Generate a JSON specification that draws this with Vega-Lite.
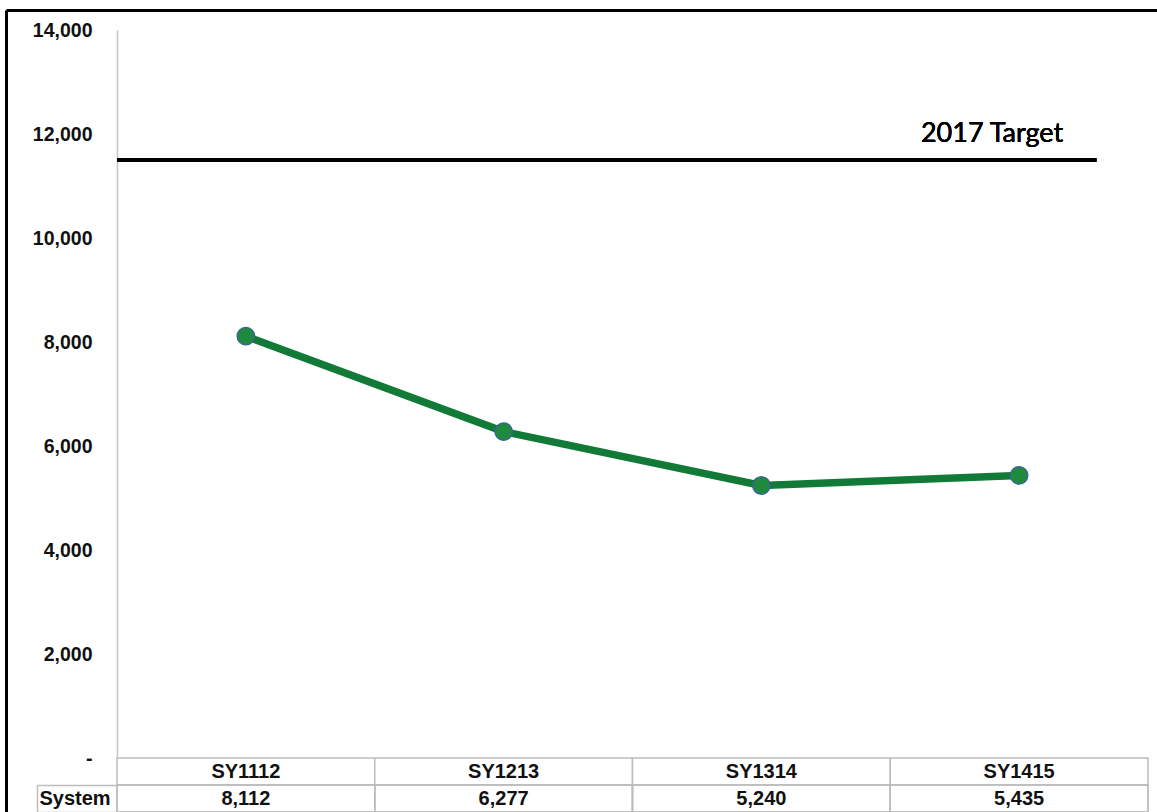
{
  "$schema": "https://vega.github.io/schema/vega-lite/v6.json",
  "padding": {"left": 6, "top": 10, "right": 0, "bottom": 0},
  "background": "white",
  "spacing": 0,
  "bounds": "flush",
  "config": {
    "view": {"stroke": null},
    "font": "Liberation Sans",
    "concat": {"spacing": 0}
  },
  "data": {
    "values": [
      {"year": "SY1112", "value": 8112},
      {"year": "SY1213", "value": 6277},
      {"year": "SY1314", "value": 5240},
      {"year": "SY1415", "value": 5435}
    ]
  },
  "resolve": {"scale": {"x": "independent", "y": "independent"}},
  "vconcat": [
    {
      "width": 1031,
      "height": 728,
      "layer": [
        {
          "encoding": {
            "x": {
              "field": "year",
              "type": "nominal",
              "scale": {"type": "band", "domain": ["SY1112", "SY1213", "SY1314", "SY1415"], "paddingInner": 0, "paddingOuter": 0},
              "axis": null
            },
            "y": {
              "field": "value",
              "type": "quantitative",
              "scale": {"domain": [0, 14000], "nice": false, "zero": true},
              "axis": {
                "title": null,
                "orient": "left",
                "values": [0, 2000, 4000, 6000, 8000, 10000, 12000, 14000],
                "labelExpr": "datum.value === 0 ? '-' : format(datum.value, ',')",
                "grid": false,
                "ticks": false,
                "domainColor": "#c4c4c4",
                "domainWidth": 1.5,
                "labelFont": "Liberation Sans",
                "labelFontSize": 19.5,
                "labelFontWeight": "bold",
                "labelColor": "#111111",
                "labelPadding": 25
              }
            }
          },
          "layer": [
            {
              "mark": {"type": "rule", "color": "black", "strokeWidth": 3.5},
              "encoding": {
                "x": {"datum": "SY1112", "bandPosition": 0},
                "x2": {"datum": "SY1415", "bandPosition": 0.8},
                "y": {"datum": 11500, "type": "quantitative"}
              }
            },
            {
              "mark": {"type": "text", "font": "Lato", "fontSize": 27, "color": "black", "baseline": "alphabetic", "align": "center"},
              "encoding": {
                "x": {"datum": "SY1415", "bandPosition": 0.395},
                "y": {"datum": 11850, "type": "quantitative"},
                "text": {"value": "2017 Target"}
              }
            },
            {
              "mark": {"type": "line", "color": "#117a36", "strokeWidth": 7.5}
            },
            {
              "mark": {"type": "point", "shape": "circle", "filled": true, "size": 310, "fill": "#1f8a3e", "stroke": "#3b5fa0", "strokeWidth": 1.2, "opacity": 1}
            }
          ]
        },
        {
          "mark": {"type": "text", "text": ""},
          "encoding": {
            "x": {
              "datum": 0,
              "type": "quantitative",
              "scale": {"domain": [0, 1], "range": [-111, 1041]},
              "axis": {"orient": "top", "offset": 20, "domain": true, "domainColor": "black", "domainWidth": 3, "ticks": false, "labels": false, "grid": false, "title": null}
            },
            "y": {
              "datum": 0,
              "type": "quantitative",
              "scale": {"domain": [0, 1], "range": [782, -20]},
              "axis": {"orient": "left", "offset": 111, "domain": true, "domainColor": "black", "domainWidth": 3, "ticks": false, "labels": false, "grid": false, "title": null}
            }
          }
        }
      ],
      "resolve": {"scale": {"x": "independent", "y": "independent"}, "axis": {"x": "independent", "y": "independent"}}
    },
    {
      "width": 1031,
      "height": 54,
      "encoding": {
        "x": {
          "field": "year",
          "type": "nominal",
          "scale": {"type": "band", "domain": ["SY1112", "SY1213", "SY1314", "SY1415"], "paddingInner": 0, "paddingOuter": 0},
          "axis": null
        }
      },
      "layer": [
        {
          "layer": [
            {
              "mark": {"type": "rect", "fill": "white", "stroke": "#bdbdbd", "strokeWidth": 1.5},
              "encoding": {
                "y": {
                  "datum": "header",
                  "type": "nominal",
                  "scale": {"type": "band", "domain": ["header", "System"], "paddingInner": 0, "paddingOuter": 0},
                  "axis": {
                    "title": null,
                    "orient": "left",
                    "domain": false,
                    "ticks": true,
                    "tickSize": 80,
                    "tickOffset": 13.5,
                    "tickWidth": 1.5,
                    "tickColor": "#bdbdbd",
                    "labelExpr": "datum.value === 'System' ? 'System' : ''",
                    "labelAlign": "left",
                    "labelOffset": -13.5,
                    "labelPadding": -2,
                    "labelFont": "Liberation Sans",
                    "labelFontSize": 20,
                    "labelFontWeight": "bold",
                    "labelColor": "#111111"
                  }
                }
              }
            },
            {
              "mark": {"type": "rect", "fill": "white", "stroke": "#bdbdbd", "strokeWidth": 1.5},
              "encoding": {"y": {"datum": "System", "type": "nominal"}}
            },
            {
              "mark": {"type": "text", "font": "Liberation Sans", "fontSize": 20, "fontWeight": "bold", "color": "#111111", "baseline": "middle"},
              "encoding": {
                "y": {"datum": "header", "type": "nominal"},
                "text": {"field": "year"}
              }
            },
            {
              "mark": {"type": "text", "font": "Liberation Sans", "fontSize": 20, "fontWeight": "bold", "color": "#111111", "baseline": "middle"},
              "encoding": {
                "y": {"datum": "System", "type": "nominal"},
                "text": {"field": "value", "format": ","}
              }
            }
          ]
        },
        {
          "mark": {"type": "rect", "fill": null, "stroke": "#bdbdbd", "strokeWidth": 1.5},
          "encoding": {
            "y": {
              "datum": "System",
              "type": "nominal",
              "scale": {"type": "band", "domain": ["System"], "range": [27, 54], "paddingInner": 0, "paddingOuter": 0},
              "axis": {"orient": "left", "offset": 80, "domain": true, "domainColor": "#bdbdbd", "domainWidth": 1.5, "ticks": false, "labels": false, "title": null}
            }
          }
        }
      ],
      "resolve": {"scale": {"y": "independent"}, "axis": {"y": "independent"}}
    }
  ]
}
